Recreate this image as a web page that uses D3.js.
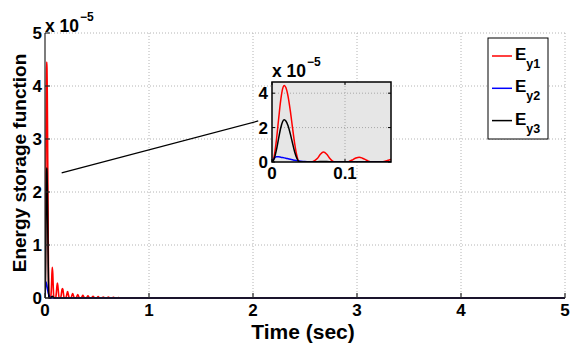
<!DOCTYPE html>
<html>
<head>
<meta charset="utf-8">
<script src="https://cdn.jsdelivr.net/npm/d3@7"></script>
<style>
  body { margin: 0; background: #fff; }
  svg { display: block; }
</style>
</head>
<body>
<svg id="chart" width="570" height="348" font-family="'Liberation Sans', Arial, Helvetica, sans-serif" font-weight="700"></svg>
<script>
// Axis ticks (values in units of 1e-5 for the energy axis)
const xTicks = [0, 1, 2, 3, 4, 5];
const yTicks = [0, 1, 2, 3, 4, 5];
const insetXTicks = [0, 0.1];
const insetYTicks = [0, 2, 4];

// Series labels / colours
const seriesSubs = ["y1", "y2", "y3"];
const seriesColors = ["#ff0000", "#0000ff", "#000000"];

// E_y1 : time (s) and energy (x 1e-5)
const tEy1 = [0, 0.003, 0.006, 0.009, 0.012, 0.0145, 0.0168, 0.019, 0.022, 0.025, 0.028, 0.031, 0.034, 0.037, 0.040,
  0.045, 0.050, 0.054, 0.058, 0.062, 0.066, 0.0704, 0.075, 0.079, 0.083, 0.086,
  0.094, 0.102, 0.106, 0.111, 0.115, 0.1195, 0.124, 0.128, 0.132, 0.136,
  0.143, 0.150, 0.155, 0.159, 0.164, 0.168, 0.172, 0.177, 0.181, 0.185,
  0.200, 0.209, 0.217, 0.225, 0.234,
  0.249, 0.258, 0.266, 0.274, 0.283,
  0.298, 0.307, 0.315, 0.323, 0.332,
  0.347, 0.356, 0.364, 0.372, 0.381,
  0.396, 0.405, 0.413, 0.421, 0.430,
  0.445, 0.454, 0.462, 0.470, 0.479,
  0.494, 0.503, 0.511, 0.519, 0.528,
  0.543, 0.552, 0.560, 0.568, 0.577,
  0.592, 0.601, 0.609, 0.617, 0.626,
  0.641, 0.650, 0.658, 0.666, 0.675,
  0.690, 0.699, 0.707, 0.715, 0.724,
  1.0, 5.0];
const ey1 = [0, 0.34, 1.26, 2.47, 3.61, 4.25, 4.45, 4.33, 3.82, 3.0, 2.03, 1.09, 0.38, 0.02, 0,
  0, 0, 0, 0.07, 0.2, 0.43, 0.58, 0.45, 0.22, 0.05, 0,
  0, 0, 0.04, 0.14, 0.23, 0.28, 0.22, 0.14, 0.05, 0,
  0, 0, 0.04, 0.1, 0.16, 0.18, 0.16, 0.09, 0.03, 0,
  0, 0.06, 0.12, 0.06, 0,
  0, 0.043, 0.085, 0.043, 0,
  0, 0.033, 0.065, 0.033, 0,
  0, 0.025, 0.05, 0.025, 0,
  0, 0.02, 0.04, 0.02, 0,
  0, 0.016, 0.032, 0.016, 0,
  0, 0.013, 0.026, 0.013, 0,
  0, 0.01, 0.02, 0.01, 0,
  0, 0.008, 0.016, 0.008, 0,
  0, 0.006, 0.012, 0.006, 0,
  0, 0.005, 0.01, 0.005, 0,
  0, 0];

// E_y2 : time (s) and energy (x 1e-5)
const tEy2 = [0, 0.003, 0.006, 0.009, 0.012, 0.0145, 0.0168, 0.019, 0.022, 0.025, 0.028, 0.031, 0.034, 0.037, 0.040,
  0.045, 0.050, 0.054, 0.058, 0.1, 1.0, 5.0];
const ey2 = [0, 0.2, 0.3, 0.3, 0.28, 0.26, 0.24, 0.22, 0.19, 0.16, 0.13, 0.1, 0.08, 0.06, 0.045,
  0.025, 0.01, 0.005, 0, 0, 0, 0];

// E_y3 : time (s) and energy (x 1e-5)
const tEy3 = [0, 0.003, 0.006, 0.009, 0.012, 0.0145, 0.0168, 0.019, 0.022, 0.025, 0.028, 0.031, 0.034, 0.037, 0.040,
  0.050, 0.058, 0.066, 0.0704, 0.075, 0.083, 0.1, 1.0, 5.0];
const ey3 = [0, 0.19, 0.69, 1.36, 1.99, 2.34, 2.45, 2.38, 2.1, 1.65, 1.12, 0.6, 0.22, 0.03, 0,
  0, 0.005, 0.025, 0.03, 0.025, 0.005, 0, 0, 0];

const series = [
  { sub: seriesSubs[0], color: seriesColors[0], pts: d3.zip(tEy1, ey1) },
  { sub: seriesSubs[1], color: seriesColors[1], pts: d3.zip(tEy2, ey2) },
  { sub: seriesSubs[2], color: seriesColors[2], pts: d3.zip(tEy3, ey3) }
];

const svg = d3.select("#chart");

// ---------- main axes ----------
const x = d3.scaleLinear().domain([0, 5]).range([45, 565]);
const y = d3.scaleLinear().domain([0, 5]).range([298, 33]);

const grid = svg.append("g").attr("stroke", "#b4b4b4").attr("stroke-width", 1).attr("stroke-dasharray", "1,2");
xTicks.filter(d => d > 0).forEach(d => {
  grid.append("line").attr("x1", x(d)).attr("x2", x(d)).attr("y1", y(0)).attr("y2", y(5));
});
yTicks.filter(d => d > 0).forEach(d => {
  grid.append("line").attr("x1", x(0)).attr("x2", x(5)).attr("y1", y(d)).attr("y2", y(d));
});

svg.append("defs").append("clipPath").attr("id", "mainClip")
  .append("rect").attr("x", x(0)).attr("y", y(5) - 2).attr("width", x(5) - x(0)).attr("height", y(0) - y(5) + 3);

const lineMain = d3.line().x(d => x(d[0])).y(d => y(d[1])).curve(d3.curveMonotoneX);
const mainLines = svg.append("g").attr("clip-path", "url(#mainClip)");
series.forEach(s => {
  mainLines.append("path").datum(s.pts).attr("d", lineMain)
    .attr("fill", "none").attr("stroke", s.color).attr("stroke-width", 1.6).attr("stroke-linejoin", "round");
});

// axis lines (box off: only left and bottom) with inward ticks
const axisG = svg.append("g").attr("stroke", "#262626").attr("stroke-width", 1.2);
axisG.append("line").attr("x1", x(0)).attr("x2", x(0)).attr("y1", y(0)).attr("y2", y(5));
axisG.append("line").attr("x1", x(0)).attr("x2", x(5)).attr("y1", y(0)).attr("y2", y(0));
xTicks.forEach(d => axisG.append("line").attr("x1", x(d)).attr("x2", x(d)).attr("y1", y(0)).attr("y2", y(0) - 5));
yTicks.forEach(d => axisG.append("line").attr("x1", x(0)).attr("x2", x(0) + 5).attr("y1", y(d)).attr("y2", y(d)));

// tick labels
svg.append("g").selectAll("text").data(xTicks).join("text")
  .attr("x", d => x(d)).attr("y", 316).attr("text-anchor", "middle").attr("font-size", 17).text(d => d);
svg.append("g").selectAll("text").data(yTicks).join("text")
  .attr("x", 42).attr("y", d => y(d) + 6).attr("text-anchor", "end").attr("font-size", 17).text(d => d);

// exponent label
const expMain = svg.append("text").attr("x", 45).attr("y", 32).attr("font-size", 17.5);
expMain.append("tspan").text("x 10");
expMain.append("tspan").attr("font-size", 12).attr("dy", -11).attr("dx", 1).text("\u22125");

// axis titles
svg.append("text").attr("x", 303).attr("y", 339).attr("text-anchor", "middle").attr("font-size", 21).text("Time (sec)");
svg.append("text").attr("transform", "translate(26,163) rotate(-90)").attr("text-anchor", "middle")
  .attr("font-size", 19).text("Energy storage function");

// pointer from the initial transient to the zoomed view
svg.append("line").attr("x1", x(0.16)).attr("y1", y(2.36)).attr("x2", x(2.05)).attr("y2", y(3.34))
  .attr("stroke", "#000").attr("stroke-width", 1.3);

// ---------- inset (zoom of the first 0.16 s) ----------
const xi = d3.scaleLinear().domain([0, 0.163]).range([272, 391]);
const yi = d3.scaleLinear().domain([0, 4.65]).range([162, 82]);

svg.append("rect").attr("x", xi(0)).attr("y", yi(4.65)).attr("width", xi(0.163) - xi(0)).attr("height", yi(0) - yi(4.65))
  .attr("fill", "#e6e6e6");
const igrid = svg.append("g").attr("stroke", "#a8a8a8").attr("stroke-width", 1).attr("stroke-dasharray", "1,2");
insetXTicks.filter(d => d > 0).forEach(d => {
  igrid.append("line").attr("x1", xi(d)).attr("x2", xi(d)).attr("y1", yi(0)).attr("y2", yi(4.65));
});
insetYTicks.filter(d => d > 0).forEach(d => {
  igrid.append("line").attr("x1", xi(0)).attr("x2", xi(0.163)).attr("y1", yi(d)).attr("y2", yi(d));
});

svg.select("defs").append("clipPath").attr("id", "insetClip")
  .append("rect").attr("x", xi(0)).attr("y", yi(4.65)).attr("width", xi(0.163) - xi(0)).attr("height", yi(0) - yi(4.65));

const lineInset = d3.line().x(d => xi(d[0])).y(d => yi(d[1])).curve(d3.curveMonotoneX);
const insetLines = svg.append("g").attr("clip-path", "url(#insetClip)");
series.forEach(s => {
  insetLines.append("path").datum(s.pts).attr("d", lineInset)
    .attr("fill", "none").attr("stroke", s.color).attr("stroke-width", 1.5).attr("stroke-linejoin", "round");
});

const iaxis = svg.append("g").attr("stroke", "#000").attr("stroke-width", 1.5);
iaxis.append("rect").attr("x", xi(0)).attr("y", yi(4.65)).attr("width", xi(0.163) - xi(0)).attr("height", yi(0) - yi(4.65))
  .attr("fill", "none");
insetXTicks.forEach(d => {
  iaxis.append("line").attr("x1", xi(d)).attr("x2", xi(d)).attr("y1", yi(0)).attr("y2", yi(0) - 3).attr("stroke-width", 1);
  iaxis.append("line").attr("x1", xi(d)).attr("x2", xi(d)).attr("y1", yi(4.65)).attr("y2", yi(4.65) + 3).attr("stroke-width", 1);
});
insetYTicks.forEach(d => {
  iaxis.append("line").attr("x1", xi(0)).attr("x2", xi(0) + 3).attr("y1", yi(d)).attr("y2", yi(d)).attr("stroke-width", 1);
  iaxis.append("line").attr("x1", xi(0.163)).attr("x2", xi(0.163) - 3).attr("y1", yi(d)).attr("y2", yi(d)).attr("stroke-width", 1);
});

svg.append("g").selectAll("text").data(insetXTicks).join("text")
  .attr("x", d => xi(d)).attr("y", 179).attr("text-anchor", "middle").attr("font-size", 17).text(d => d);
svg.append("g").selectAll("text").data(insetYTicks).join("text")
  .attr("x", 268).attr("y", d => yi(d) + 6).attr("text-anchor", "end").attr("font-size", 17).text(d => d);

const expInset = svg.append("text").attr("x", 272).attr("y", 77).attr("font-size", 17.5);
expInset.append("tspan").text("x 10");
expInset.append("tspan").attr("font-size", 12).attr("dy", -11).attr("dx", 1).text("\u22125");

// ---------- legend ----------
const legend = svg.append("g");
legend.append("rect").attr("x", 488).attr("y", 38).attr("width", 60).attr("height", 101)
  .attr("fill", "#fff").attr("stroke", "#000").attr("stroke-width", 1);
series.forEach((s, i) => {
  const ly = 56 + i * 32.3;
  legend.append("line").attr("x1", 492).attr("x2", 512).attr("y1", ly).attr("y2", ly)
    .attr("stroke", s.color).attr("stroke-width", 1.5);
  const t = legend.append("text").attr("x", 515).attr("y", ly + 4).attr("font-size", 17);
  t.append("tspan").text("E");
  t.append("tspan").attr("font-size", 12.5).attr("dy", 8).text(s.sub);
});
</script>
</body>
</html>
